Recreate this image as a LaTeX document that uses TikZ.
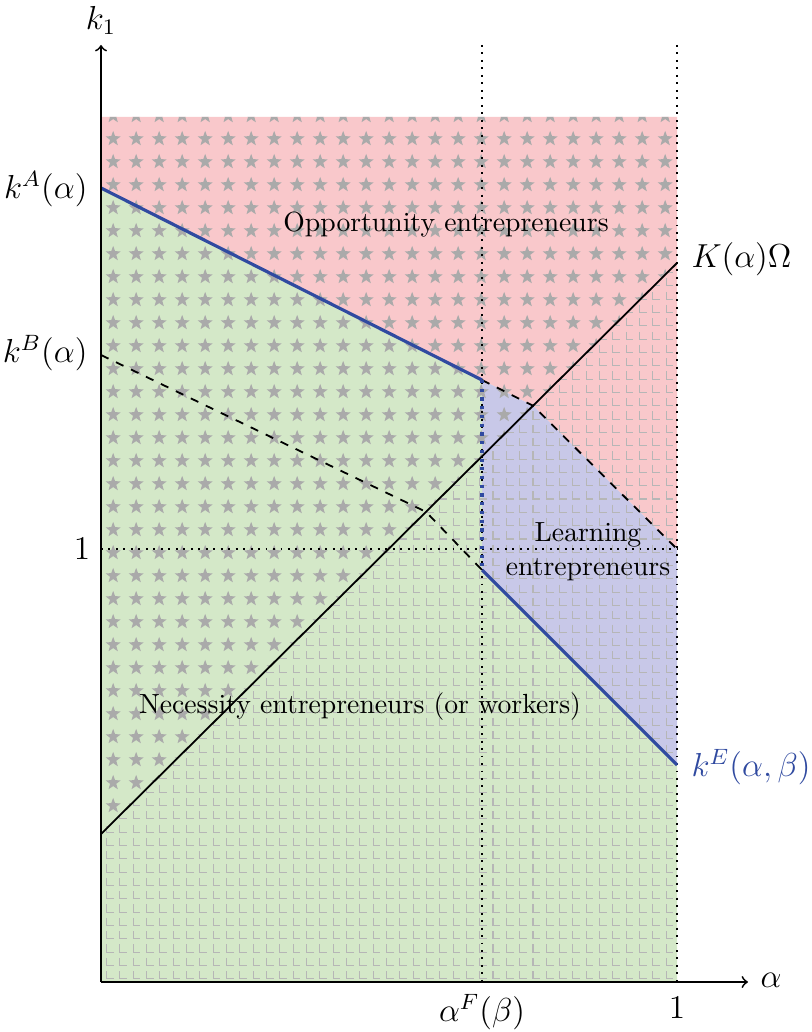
\documentclass[tikz,border=0pt]{standalone}
\usetikzlibrary{patterns,calc}
\definecolor{oppred}{RGB}{249,200,203}
\definecolor{necgreen}{RGB}{212,232,200}
\definecolor{learnblue}{RGB}{200,200,232}
\definecolor{kblue}{RGB}{48,74,160}
\definecolor{stargray}{RGB}{170,170,170}
\definecolor{gridgray}{RGB}{182,182,182}
\pgfdeclarepatternformonly{mystars}{\pgfqpoint{-4.09pt}{-4.09pt}}{\pgfqpoint{4.09pt}{4.09pt}}{\pgfqpoint{8.18pt}{8.18pt}}{%
  \pgfpathmoveto{\pgfpointpolar{90}{2.9pt}}%
  \pgfpathlineto{\pgfpointpolar{126}{1.2pt}}%
  \pgfpathlineto{\pgfpointpolar{162}{2.9pt}}%
  \pgfpathlineto{\pgfpointpolar{198}{1.2pt}}%
  \pgfpathlineto{\pgfpointpolar{234}{2.9pt}}%
  \pgfpathlineto{\pgfpointpolar{270}{1.2pt}}%
  \pgfpathlineto{\pgfpointpolar{306}{2.9pt}}%
  \pgfpathlineto{\pgfpointpolar{342}{1.2pt}}%
  \pgfpathlineto{\pgfpointpolar{18}{2.9pt}}%
  \pgfpathlineto{\pgfpointpolar{54}{1.2pt}}%
  \pgfpathclose
  \pgfusepath{fill}%
}
\pgfdeclarepatternformonly{myells}{\pgfqpoint{-0.5pt}{-0.5pt}}{\pgfqpoint{4.31pt}{4.31pt}}{\pgfqpoint{4.81pt}{4.81pt}}{%
  \pgfsetlinewidth{0.38pt}%
  \pgfpathmoveto{\pgfqpoint{0pt}{2.75pt}}%
  \pgfpathlineto{\pgfqpoint{0pt}{0pt}}%
  \pgfpathlineto{\pgfqpoint{2.6pt}{0pt}}%
  \pgfusepath{stroke}%
}
\begin{document}
\begin{tikzpicture}[x=0.361pt,y=-0.361pt,
  axis/.style={line width=0.65pt,->},
  guide/.style={dotted,line width=0.7pt},
  bound/.style={dashed,line width=0.65pt},
  diag/.style={line width=0.65pt},
  kline/.style={kblue,line width=1.15pt},
  mlabel/.style={font=\fontsize{11.6}{14}\selectfont,inner sep=0pt},
  tlabel/.style={font=\fontsize{10}{12.4}\selectfont,align=center,inner sep=0pt}]
\useasboundingbox (0,0) rectangle (811,1032);
% key points
\coordinate (O) at (101,982);
\coordinate (Ytop) at (101,45);
\coordinate (Xend) at (748,982);
\coordinate (T0) at (101,117);
\coordinate (T1) at (677,117);
\coordinate (R0) at (677,982);
\coordinate (A) at (101,188);
\coordinate (B) at (101,355);
\coordinate (F) at (482,380);
\coordinate (E1) at (482,570);
\coordinate (E2) at (677,765);
\coordinate (H) at (677,549);
\coordinate (One) at (101,549);
\coordinate (D0) at (101,834);
\coordinate (D1) at (677,263);
\coordinate (G) at ($(D0)!0.75!(D1)$);
\coordinate (C) at ($(D0)!0.5642!(D1)$);
\coordinate (FT) at (482,45);
\coordinate (FB) at (482,982);
\coordinate (RT) at (677,45);
% regions
\fill[oppred] (T0) -- (T1) -- (H) -- (G) -- (F) -- (A) -- cycle;
\fill[learnblue] (F) -- (G) -- (H) -- (E2) -- (E1) -- cycle;
\fill[necgreen] (A) -- (F) -- (E1) -- (E2) -- (R0) -- (O) -- cycle;
\fill[pattern=mystars,pattern color=stargray] (T0) -- (T1) -- (D1) -- (D0) -- cycle;
\fill[pattern=myells,pattern color=gridgray] (D0) -- (D1) -- (R0) -- (O) -- cycle;
% guides
\draw[guide] (FT) -- (FB);
\draw[guide] (RT) -- (R0);
\draw[guide] (One) -- (H);
% boundaries
\draw[bound] (B) -- (C) -- (E1);
\draw[bound] (F) -- (G) -- (H);
\draw[diag] (D0) -- (D1);
\draw[kline] (A) -- (F);
\draw[kline,dotted] (F) -- (E1);
\draw[kline] (E1) -- (E2);
% axes
\draw[axis] (O) -- (Ytop);
\draw[axis] (O) -- (Xend);
% labels
\node[mlabel] (lk1) at (101,20) {$k_1$};
\node[mlabel] (lal) at (771,980) {$\alpha$};
\node[mlabel] (laF) at (482,1012) {$\alpha^F(\beta)$};
\node[mlabel] (lone) at (677,1008) {$1$};
\node[mlabel] (lonel) at (82,549) {$1$};
\node[mlabel,anchor=east] (lkA) at (88,189) {$k^A(\alpha)$};
\node[mlabel,anchor=east] (lkB) at (88,353) {$k^B(\alpha)$};
\node[mlabel,anchor=west] (lK) at (691,259) {$K(\alpha)\Omega$};
\node[mlabel,anchor=west,text=kblue] (lkE) at (691,767) {$k^E(\alpha,\beta)$};
\node[tlabel] (topp) at (446,225) {Opportunity entrepreneurs};
\node[tlabel] (tlearn) at (588,552) {Learning\\entrepreneurs};
\node[tlabel] (tnec) at (360,707) {Necessity entrepreneurs (or workers)};
\end{tikzpicture}
\end{document}
